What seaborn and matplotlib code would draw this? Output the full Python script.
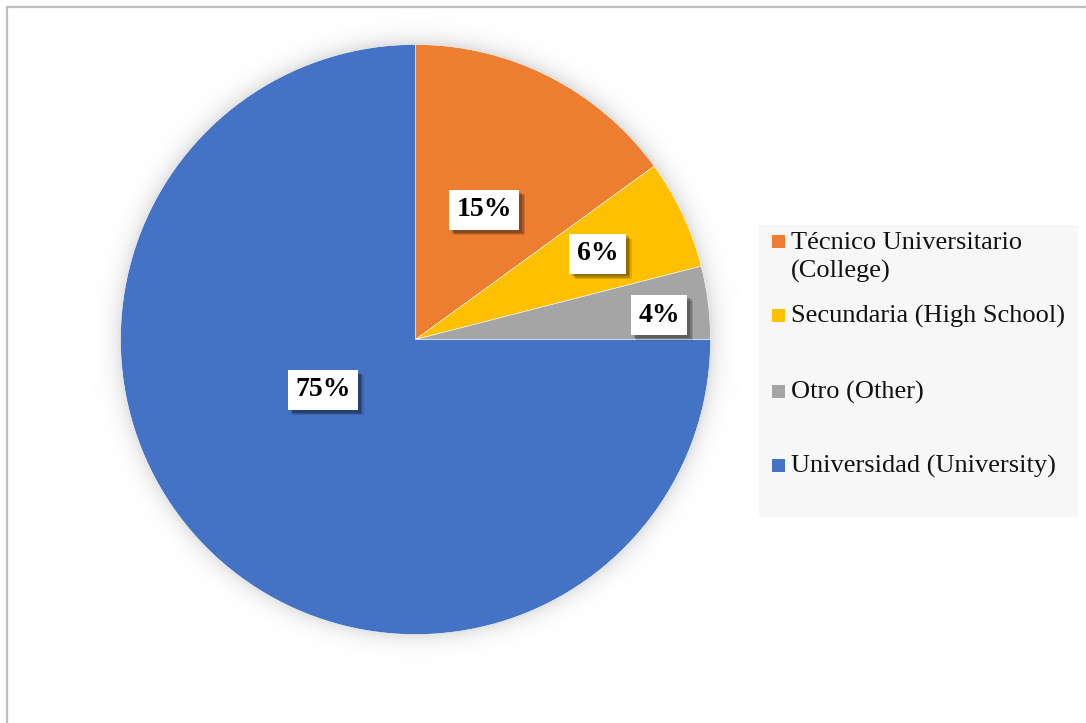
import numpy as np
import matplotlib
matplotlib.use("Agg")
import matplotlib.pyplot as plt
import matplotlib.patheffects as pe
from matplotlib.patches import Rectangle
from matplotlib.lines import Line2D
import seaborn as sns

# Education level shares (percent)
categories = ["Técnico Universitario\n(College)", "Secundaria (High School)",
              "Otro (Other)", "Universidad (University)"]
shares = [15, 6, 4, 75]
colors = ["#ED7D31", "#FFC000", "#A5A5A5", "#4472C4"]

sns.set_theme(style="white")
plt.rcParams["font.family"] = ["Liberation Serif", "DejaVu Serif"]
palette = sns.color_palette(colors)

W, H, DPI = 1086, 723, 100
fig = plt.figure(figsize=(W / DPI, H / DPI), dpi=DPI)
fig.patch.set_facecolor("white")

# pie axes: centre and radius in pixels
cx, cy, rad = 415.5, 339.5, 295.0
span = 1.2
side = 2 * span * rad
ax = fig.add_axes([(cx - span * rad) / W, (H - cy - span * rad) / H, side / W, side / H])

wedges, _ = ax.pie(shares, colors=palette, startangle=90, counterclock=False,
                   radius=1.0, wedgeprops=dict(edgecolor="white", linewidth=0.4))
for w in wedges:
    w.set_zorder(2)

# soft glow shadow around the pie
g = np.linspace(-span, span, 600)
X, Y = np.meshgrid(g, g)
dpx = (np.hypot(X, Y) - 1.0) * rad
alpha = np.where(dpx > -3, 0.13 * np.exp(-np.clip(dpx, 0, None) / 9.0), 0.0)
glow = np.zeros(X.shape + (4,))
glow[..., 3] = alpha
ax.imshow(glow, extent=(-span, span, -span, span), origin="lower", zorder=0,
          interpolation="bilinear")

ax.set_xlim(-span, span)
ax.set_ylim(-span, span)
ax.set_aspect("equal")
ax.axis("off")

# percentage labels
label_radius = [0.497, 0.683, 0.83, 0.357]
label_angle_shift = [-0.9, 0.0, -1.5, -16.4]
shadow = [pe.SimplePatchShadow(offset=(4, -4), shadow_rgbFace="black", alpha=0.12),
          pe.SimplePatchShadow(offset=(3, -3), shadow_rgbFace="black", alpha=0.18),
          pe.SimplePatchShadow(offset=(2, -2), shadow_rgbFace="black", alpha=0.2),
          pe.Normal()]
for w, v, r, da in zip(wedges, shares, label_radius, label_angle_shift):
    mid = np.deg2rad((w.theta1 + w.theta2) / 2 + da)
    t = ax.text(r * np.cos(mid), r * np.sin(mid), f"{v}%", ha="center", va="center",
                fontsize=20, fontweight="bold", color="black", zorder=5,
                bbox=dict(boxstyle="square,pad=0.27", facecolor="white", edgecolor="none"))
    t.get_bbox_patch().set_path_effects(shadow)

# legend panel
def fx(px):
    return px / W

def fy(py):
    return 1 - py / H

fig.add_artist(Rectangle((fx(759), fy(517)), fx(1078) - fx(759), fy(225) - fy(517),
                         transform=fig.transFigure, facecolor="#F7F7F7", edgecolor="none"))
baselines = [249, 323, 399, 473]
for lab, col, base in zip(categories, palette, baselines):
    fig.add_artist(Rectangle((fx(772), fy(base - 1)), fx(13), 13 / H,
                             transform=fig.transFigure, facecolor=col, edgecolor="none"))
    lines = lab.split("\n")
    for i, line in enumerate(lines):
        fig.text(fx(791), fy(base + 29 * i), line, fontsize=19, color="#111111",
                 ha="left", va="baseline")

# chart frame (top and left edges)
fig.add_artist(Line2D([fx(6.5), 1], [fy(6.5), fy(6.5)], transform=fig.transFigure,
                      color="#BFBFBF", linewidth=1.6))
fig.add_artist(Line2D([fx(6.5), fx(6.5)], [fy(6.5), 0], transform=fig.transFigure,
                      color="#BFBFBF", linewidth=1.6))

fig.savefig("out.png", dpi=DPI, facecolor="white")
